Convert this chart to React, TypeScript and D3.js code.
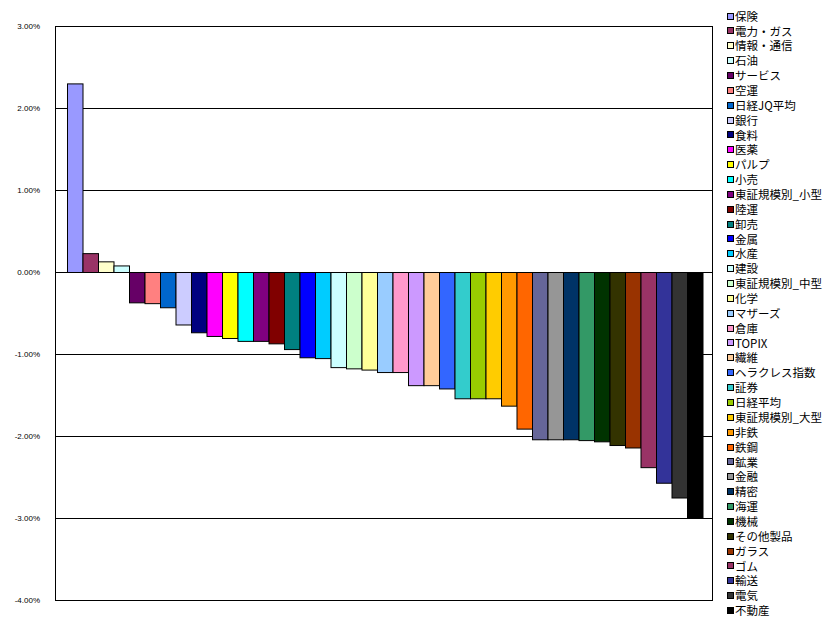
import React from "react";
import * as d3 from "d3";

// Sector / index daily change (%), one series per sector
const sectors: string[] = [
  "保険", "電力・ガス", "情報・通信", "石油", "サービス", "空運", "日経JQ平均", "銀行",
  "食料", "医薬", "パルプ", "小売", "東証規模別_小型", "陸運", "卸売", "金属", "水産",
  "建設", "東証規模別_中型", "化学", "マザーズ", "倉庫", "TOPIX", "繊維", "ヘラクレス指数",
  "証券", "日経平均", "東証規模別_大型", "非鉄", "鉄鋼", "鉱業", "金融", "精密", "海運",
  "機械", "その他製品", "ガラス", "ゴム", "輸送", "電気", "不動産",
];

const changes: number[] = [
  2.3, 0.23, 0.13, 0.08, -0.37, -0.38, -0.43, -0.64,
  -0.735, -0.78, -0.805, -0.84, -0.84, -0.87, -0.94, -1.04, -1.05,
  -1.16, -1.175, -1.19, -1.22, -1.22, -1.38, -1.38, -1.42,
  -1.54, -1.54, -1.54, -1.63, -1.91, -2.04, -2.04, -2.04, -2.05,
  -2.065, -2.11, -2.14, -2.38, -2.57, -2.75, -3.0,
];

const fills: string[] = [
  "#9999FF", "#993366", "#FFFFCC", "#CCFFFF", "#660066", "#FF8080", "#0066CC", "#CCCCFF",
  "#000080", "#FF00FF", "#FFFF00", "#00FFFF", "#800080", "#800000", "#008080", "#0000FF", "#00CCFF",
  "#CCFFFF", "#CCFFCC", "#FFFF99", "#99CCFF", "#FF99CC", "#CC99FF", "#FFCC99", "#3366FF",
  "#33CCCC", "#99CC00", "#FFCC00", "#FF9900", "#FF6600", "#666699", "#969696", "#003366", "#339966",
  "#003300", "#333300", "#993300", "#993366", "#333399", "#333333", "#000000",
];

const yTicks: number[] = [3, 2, 1, 0, -1, -2, -3, -4];

const plot = { left: 55, right: 712, top: 26, bottom: 600 };

export default function App() {
  const y = d3.scaleLinear().domain([-4, 3]).range([plot.bottom, plot.top]);
  const x = d3
    .scaleBand<string>()
    .domain(sectors)
    .range([67, 702.5])
    .paddingInner(0)
    .paddingOuter(0);
  const legendY = d3
    .scalePoint<string>()
    .domain(sectors)
    .range([16.5, 611]);
  const fmt = (v: number) => `${v.toFixed(2)}%`;

  return (
    <svg
      width={834}
      height={629}
      style={{ position: "absolute", left: 0, top: 0, background: "#fff" }}
    >
      <rect x={0} y={0} width={834} height={629} fill="#fff" />
      {/* gridlines */}
      {yTicks
        .filter((t) => t !== 3 && t !== -4)
        .map((t) => (
          <line
            key={`g${t}`}
            x1={plot.left}
            x2={plot.right}
            y1={Math.round(y(t)) + 0.5}
            y2={Math.round(y(t)) + 0.5}
            stroke="#000"
            strokeWidth={1}
          />
        ))}
      {/* bars */}
      {sectors.map((s, i) => {
        const v = changes[i];
        const y0 = y(0);
        const y1 = y(v);
        return (
          <rect
            key={s}
            x={(x(s) as number) + 0.5}
            y={Math.min(y0, y1) + 0.5}
            width={x.bandwidth()}
            height={Math.abs(y1 - y0)}
            fill={fills[i]}
            stroke="#000"
            strokeWidth={1}
          />
        );
      })}
      {/* plot frame */}
      <rect
        x={plot.left + 0.5}
        y={plot.top + 0.5}
        width={plot.right - plot.left}
        height={plot.bottom - plot.top}
        fill="none"
        stroke="#000"
        strokeWidth={1}
      />
      {/* y axis labels */}
      {yTicks.map((t) => (
        <text
          key={`t${t}`}
          x={40}
          y={y(t)}
          dy="0.35em"
          textAnchor="end"
          fontFamily="'Liberation Sans', Arial, sans-serif"
          fontSize={8}
          fill="#000"
        >
          {fmt(t)}
        </text>
      ))}
      {/* legend */}
      {sectors.map((s, i) => {
        const cy = legendY(s) as number;
        return (
          <g key={`l${s}`}>
            <rect
              x={727.5}
              y={Math.round(cy) - 3.5}
              width={6}
              height={6}
              fill={fills[i]}
              stroke="#000"
              strokeWidth={1}
            />
            <text
              x={735}
              y={cy}
              dy="0.36em"
              fontFamily="'Noto Sans CJK JP', sans-serif"
              fontSize={11.5}
              fill="#000"
            >
              {s}
            </text>
          </g>
        );
      })}
    </svg>
  );
}
